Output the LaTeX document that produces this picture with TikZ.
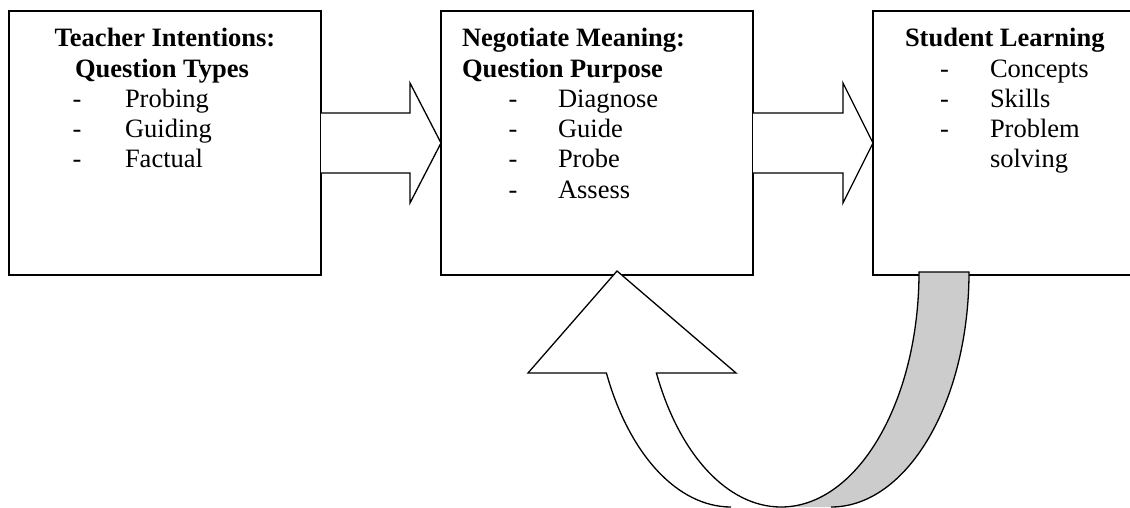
\documentclass[tikz,border=0pt]{standalone}
\usepackage{fontspec}
\setmainfont{Liberation Serif}
\usetikzlibrary{calc}
\definecolor{bandgrey}{RGB}{204,204,204}
\begin{document}
\begin{tikzpicture}[x=1pt,y=-1pt,
  box/.style={draw, line width=1.8pt, minimum width=312pt, minimum height=264pt, inner sep=0pt, outer sep=0pt},
  txt/.style={inner sep=0pt, outer sep=0pt, font=\fontsize{26.5}{30}\selectfont},
  hd/.style={inner sep=0pt, outer sep=0pt, font=\fontsize{26.5}{30}\selectfont\bfseries},
  blockarrow/.style={draw, fill=white, line width=1.3pt, line join=miter},
  bandline/.style={draw, line width=1.3pt, line join=miter}]
\useasboundingbox (0,0) rectangle (1130,508);
\clip (0,0) rectangle (1130,508);
\fill[white] (0,0) rectangle (1130,508);
% boxes
\node[box] (b1) at (165,143) {};
\node[box] (b2) at (597,143) {};
\node[box] (b3) at (1029,143) {};
% box 1 text
\node[hd, anchor=base] (t1a) at (165,47) {Teacher Intentions:};
\node[hd, anchor=base] (t1b) at (162,77.2) {Question Types};
\node[txt, anchor=base] (d1a) at (77,107.4) {-};
\node[txt, anchor=base west] (i1a) at (125,107.4) {Probing};
\node[txt, anchor=base] (d1b) at (77,137.6) {-};
\node[txt, anchor=base west] (i1b) at (125,137.6) {Guiding};
\node[txt, anchor=base] (d1c) at (77,167.8) {-};
\node[txt, anchor=base west] (i1c) at (125,167.8) {Factual};
% box 2 text
\node[hd, anchor=base west] (t2a) at (462,47) {Negotiate Meaning:};
\node[hd, anchor=base west] (t2b) at (462,77.2) {Question Purpose};
\node[txt, anchor=base] (d2a) at (513,107.4) {-};
\node[txt, anchor=base west] (i2a) at (558,107.4) {Diagnose};
\node[txt, anchor=base] (d2b) at (513,137.6) {-};
\node[txt, anchor=base west] (i2b) at (558,137.6) {Guide};
\node[txt, anchor=base] (d2c) at (513,167.8) {-};
\node[txt, anchor=base west] (i2c) at (558,167.8) {Probe};
\node[txt, anchor=base] (d2d) at (513,198) {-};
\node[txt, anchor=base west] (i2d) at (558,198) {Assess};
% box 3 text
\node[hd, anchor=base west] (t3a) at (905,47) {Student Learning};
\node[txt, anchor=base] (d3a) at (944.5,77.2) {-};
\node[txt, anchor=base west] (i3a) at (990,77.2) {Concepts};
\node[txt, anchor=base] (d3b) at (944.5,107.4) {-};
\node[txt, anchor=base west] (i3b) at (990,107.4) {Skills};
\node[txt, anchor=base] (d3c) at (944.5,137.6) {-};
\node[txt, anchor=base west] (i3c) at (990,137.6) {Problem};
\node[txt, anchor=base west] (i3d) at (990,167.8) {solving};
% block arrows
\draw[blockarrow] ($(b1.east)+(0,-30)$) -- ($(b2.west)+(-31,-30)$) -- ($(b2.west)+(-31,-60)$)
  -- (b2.west) -- ($(b2.west)+(-31,60)$) -- ($(b2.west)+(-31,30)$) -- ($(b1.east)+(0,30)$);
\draw[blockarrow] ($(b2.east)+(0,-30)$) -- ($(b3.west)+(-30,-30)$) -- ($(b3.west)+(-30,-60)$)
  -- (b3.west) -- ($(b3.west)+(-30,60)$) -- ($(b3.west)+(-30,30)$) -- ($(b2.east)+(0,30)$);
% curved arrow: back (grey) band
\coordinate (gi) at (919,272);
\coordinate (go) at (969,272);
\fill[bandgrey] (gi) -- (go) arc[start angle=0, end angle=90, x radius=138, y radius=235]
  -- (781,507) arc[start angle=90, end angle=0, x radius=138, y radius=235] -- cycle;
\draw[bandline] (781,507) arc[start angle=90, end angle=0, x radius=138, y radius=235]
  -- (go) arc[start angle=0, end angle=90, x radius=138, y radius=235];
% curved arrow: front (white) band with head
\coordinate (tip) at (617,271);
\coordinate (hl) at (528,373);
\coordinate (hr) at (736,373);
\coordinate (so) at (606.4,373);
\coordinate (si) at (656.4,373);
\fill[white] (so) -- (hl) -- (tip) -- (hr) -- (si)
  arc[start angle=154.545, end angle=90, x radius=138, y radius=235]
  -- (731,507) arc[start angle=90, end angle=154.545, x radius=138, y radius=235] -- cycle;
\draw[bandline] (731,507) arc[start angle=90, end angle=154.545, x radius=138, y radius=235]
  -- (hl) -- (tip) -- (hr) -- (si)
  arc[start angle=154.545, end angle=90, x radius=138, y radius=235];
\end{tikzpicture}
\end{document}
